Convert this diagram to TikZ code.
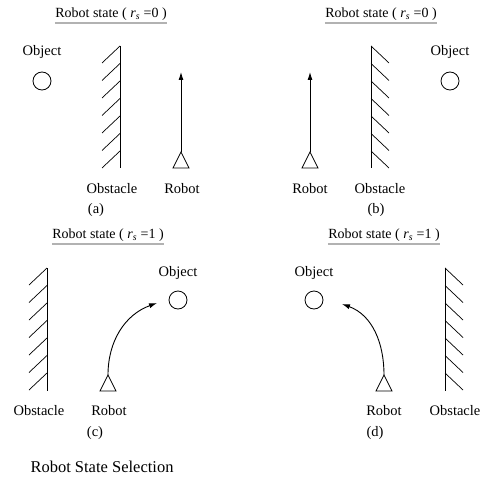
\documentclass[tikz,border=0pt]{standalone}
\usepackage{fontspec}
\setmainfont{Liberation Serif}
\usetikzlibrary{arrows.meta}

\begin{document}
\begin{tikzpicture}[
    x=1pt, y=-1pt,
    line width=0.9pt,
    lbl/.style={font=\fontsize{14.5}{16}\selectfont, inner sep=0pt},
    ttl/.style={font=\fontsize{14}{16}\selectfont, inner sep=0pt},
    uline/.style={draw=gray!60, line width=1.8pt},
    obj/.style={draw, circle, minimum size=18pt, inner sep=0pt, line width=0.8pt},
    move/.style={-{Latex[length=8pt, width=5pt]}},
    hatch/.style={line width=0.7pt}
]
    \useasboundingbox (0,0) rectangle (486,481);

    % Titles
    \node[ttl] (ta) at (111,14) {Robot state ( \textit{r}\textsubscript{\textit{s}} =0 )};
    \node[ttl] (tb) at (381,14) {Robot state ( \textit{r}\textsubscript{\textit{s}} =0 )};
    \node[ttl] (tc) at (108,235) {Robot state ( \textit{r}\textsubscript{\textit{s}} =1 )};
    \node[ttl] (td) at (384,235) {Robot state ( \textit{r}\textsubscript{\textit{s}} =1 )};
    \foreach \t in {ta,tb,tc,td}
        \draw[uline] ([yshift=-2pt]\t.south west) -- ([yshift=-2pt]\t.south east);

    % Objects
    \node[obj] (obja) at (42,81) {};
    \node[obj] (objb) at (450,81) {};
    \node[obj] (objc) at (178,300) {};
    \node[obj] (objd) at (314,300) {};
    \node[lbl] at (42,52) {Object};
    \node[lbl] at (450,52) {Object};
    \node[lbl] at (178,273) {Object};
    \node[lbl] at (314,273) {Object};

    % Obstacles (walls with hatching)
    \draw (120,46) -- (120,168);
    \foreach \k in {0,...,6}
        \draw[hatch] (120,46+17.5*\k) -- ++(-18,17);
    \draw (371,46) -- (371,168);
    \foreach \k in {0,...,6}
        \draw[hatch] (371,46+17.5*\k) -- ++(18,17);
    \draw (47,268) -- (47,391);
    \foreach \k in {0,...,6}
        \draw[hatch] (47,268+17.5*\k) -- ++(-18,17);
    \draw (445,268) -- (445,391);
    \foreach \k in {0,...,6}
        \draw[hatch] (445,268+17.5*\k) -- ++(18,17);

    % Robots
    \coordinate (roba) at (181,152);
    \coordinate (robb) at (310,152);
    \coordinate (robc) at (108,375);
    \coordinate (robd) at (384,375);
    \foreach \r in {roba,robb,robc,robd}
        \draw[line width=0.8pt] (\r) -- ++(-8,16) -- ++(16,0) -- cycle;

    % Motion
    \coordinate (goa) at (181,72);
    \coordinate (gob) at (310,72);
    \coordinate (goc) at (157,303);
    \coordinate (god) at (342,304);
    \draw[move] (roba) -- (goa);
    \draw[move] (robb) -- (gob);
    \draw[move] (robc) to[out=90, in=200] (goc);
    \draw[move] (robd) to[out=90, in=-20] (god);

    % Labels
    \node[lbl] at (112,189) {Obstacle};
    \node[lbl] at (182,189) {Robot};
    \node[lbl] at (96,210) {(a)};
    \node[lbl] at (310,189) {Robot};
    \node[lbl] at (380,189) {Obstacle};
    \node[lbl] at (376,210) {(b)};
    \node[lbl] at (39,411) {Obstacle};
    \node[lbl] at (109,411) {Robot};
    \node[lbl] at (95,433) {(c)};
    \node[lbl] at (384,411) {Robot};
    \node[lbl] at (455,411) {Obstacle};
    \node[lbl] at (375,433) {(d)};

    \node[font=\fontsize{16.5}{18}\selectfont, inner sep=0pt] (cap) at (102,467) {Robot State Selection};
\end{tikzpicture}
\end{document}
